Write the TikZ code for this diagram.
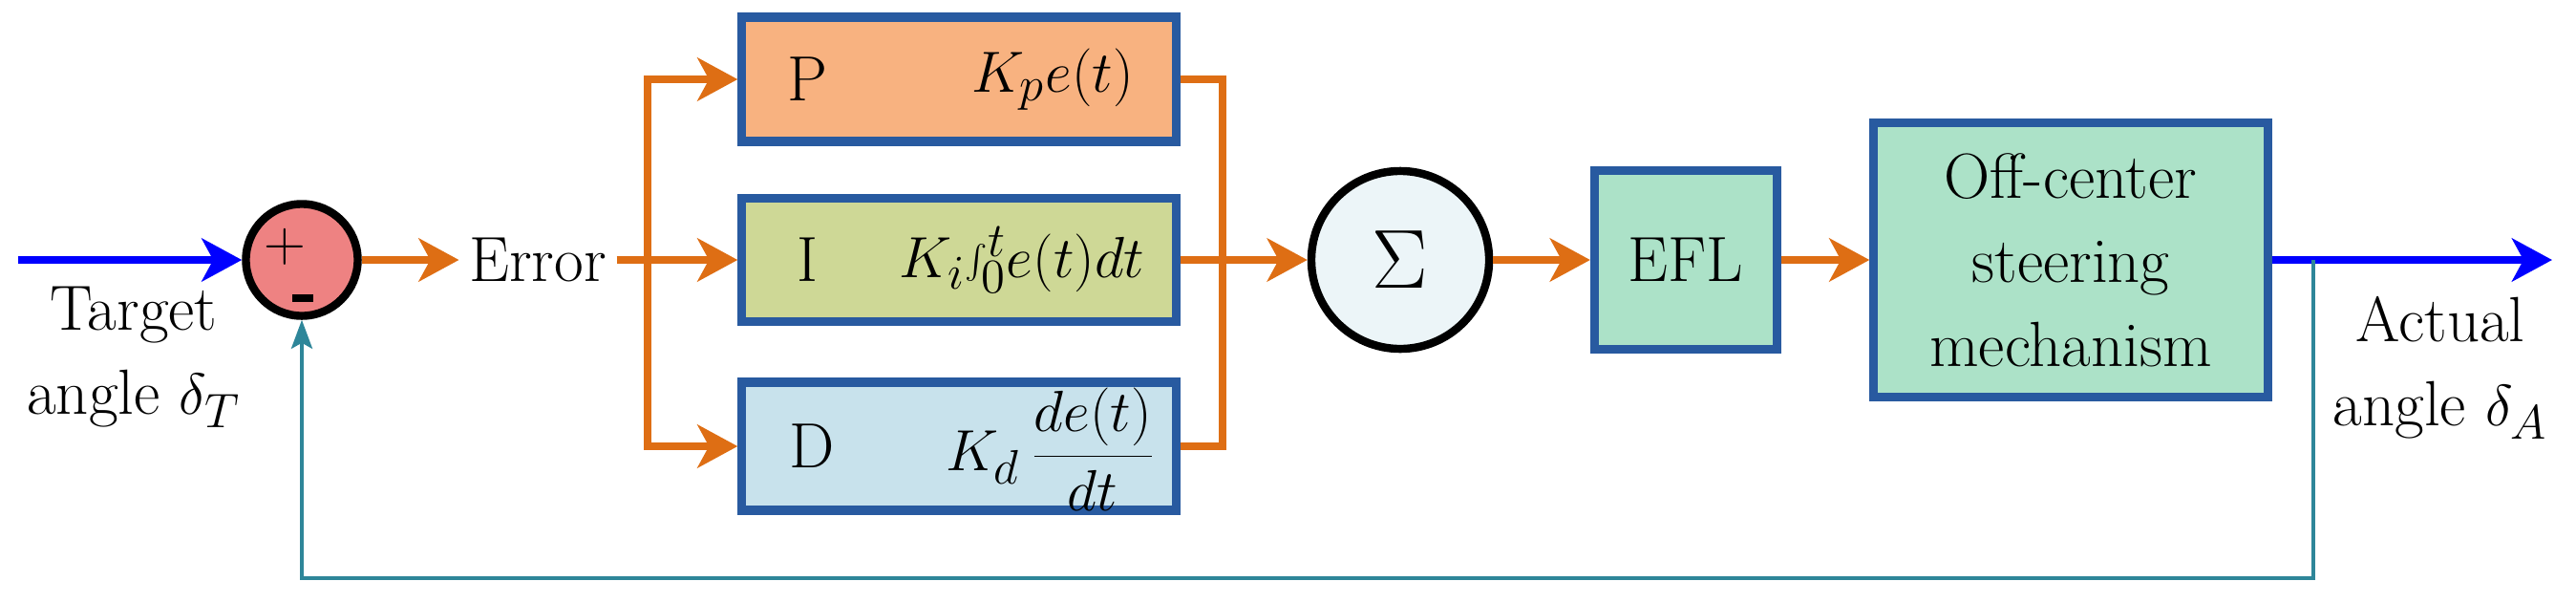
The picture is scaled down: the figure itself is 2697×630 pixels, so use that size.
\documentclass[tikz,border=0pt]{standalone}
\usetikzlibrary{arrows.meta}
\definecolor{org}{RGB}{222,110,20}
\definecolor{bord}{RGB}{40,90,160}
\definecolor{teal}{RGB}{46,134,153}
\definecolor{pfill}{RGB}{248,178,128}
\definecolor{ifill}{RGB}{206,216,150}
\definecolor{dfill}{RGB}{200,226,236}
\definecolor{gfill}{RGB}{172,226,200}
\definecolor{rfill}{RGB}{238,130,130}
\definecolor{sfill}{RGB}{236,245,248}
\begin{document}
\begin{tikzpicture}[x=0.01cm,y=-0.01cm,
  txt/.style={font=\fontsize{19}{25}\selectfont, inner sep=0pt},
  blk/.style={draw=bord, line width=2.6pt, inner sep=0pt},
  oar/.style={draw=org, line width=2.4pt, -{Stealth[length=0.42cm,width=0.45cm,inset=0.12cm]}},
  oln/.style={draw=org, line width=2.4pt},
  bar/.style={draw=blue, line width=2.4pt, -{Stealth[length=0.42cm,width=0.45cm,inset=0.12cm]}},
  fb/.style={draw=teal, line width=1.2pt}]
\useasboundingbox (0,0) rectangle (2697,630);
% blocks
\node[blk, fill=pfill, minimum width=4.54cm, minimum height=1.30cm] (P) at (1004,83) {};
\node[blk, fill=ifill, minimum width=4.54cm, minimum height=1.29cm] (I) at (1004,272) {};
\node[blk, fill=dfill, minimum width=4.54cm, minimum height=1.34cm] (D) at (1004,467) {};
\node[blk, fill=gfill, minimum width=1.91cm, minimum height=1.87cm] (EFL) at (1765,272) {};
\node[blk, fill=gfill, minimum width=4.12cm, minimum height=2.87cm] (OC) at (2168,272) {};
\node[txt] at (1765,272) {EFL};
\node[txt, align=center, font=\fontsize{19}{25}\selectfont] at (2168,272) {Off-center\\steering\\mechanism};
\node[txt] at (845,83) {P};
\node[txt] at (1102,83) {$K_pe(t)$};
\node[txt] at (845,272) {I};
\node[txt] at (1070,272) {$K_i\!\int_0^t\! e(t)dt$};
\node[txt] at (850,467) {D};
\node[txt] at (1100,470) {$K_d\,{\displaystyle\frac{de(t)}{dt}}$};
% junctions
\node[draw, line width=2.4pt, fill=rfill, circle, minimum size=1.17cm] (S) at (316,272) {};
\node[txt] at (298,258) {$+$};
\fill (306,308) rectangle (328,316);
\node[draw, line width=2.4pt, fill=sfill, circle, minimum size=1.86cm, inner sep=0pt] (G) at (1466,272) {\fontsize{72}{72}\selectfont$\Sigma$};
% texts
\node[txt] (err) at (563,272) {Error};
\node[txt, align=center] at (140,374) {Target\\angle $\delta_T$};
\node[txt, align=center] at (2555,385) {Actual\\angle $\delta_A$};
% coordinates
\coordinate (in) at (19,272);
\coordinate (br) at (678,272);
\coordinate (out) at (2672,272);
\coordinate (tap) at (2422,272);
\coordinate (col) at (1280,272);
\coordinate (fbc) at (316,605);
% connectors
\draw[bar] (in) -- (S.west);
\draw[oar] (S.east) -- ([xshift=-0.1cm]err.west);
\draw[oln] ([xshift=0.1cm]err.east) -- (br);
\draw[oar] (br) -- (I.west);
\draw[oar] (br) |- (P.west);
\draw[oar] (br) |- (D.west);
\draw[oln] (P.east) -| (col);
\draw[oln] (D.east) -| (col);
\draw[oar] (I.east) -- (G.west);
\draw[oar] (G.east) -- (EFL.west);
\draw[oar] (EFL.east) -- (OC.west);
\draw[bar] (OC.east) -- (out);
\draw[fb, -{Stealth[length=0.3cm,width=0.22cm,inset=0.06cm]}] (tap) |- (fbc) -- (S.south);
\end{tikzpicture}
\end{document}
